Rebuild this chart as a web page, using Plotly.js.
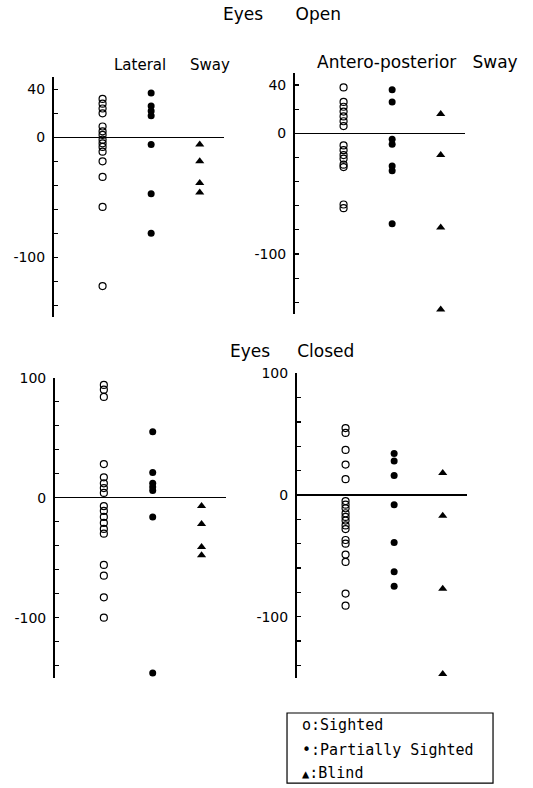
<!DOCTYPE html>
<html>
<head>
<meta charset="utf-8">
<script src="https://cdn.plot.ly/plotly-3.0.1.min.js"></script>
<style>html,body{margin:0;padding:0;background:#fff;}#chart{width:533px;height:788px;}</style>
</head>
<body>
<div id="chart"></div>
<script>
// Eyes open, lateral sway
const openLatSighted = [32, 28, 24, 20, 9, 5, 2, -2, -5, -8, -12, -20, -33, -58, -124];
const openLatPartial = [37, 26, 22, 18, -6, -47, -80];
const openLatBlind = [-6, -20, -38, -46];
// Eyes open, antero-posterior sway
const openApSighted = [38, 26, 22, 18, 14, 10, 6, -10, -14, -18, -21, -26, -28, -59, -62];
const openApPartial = [36, 26, -5, -9, -27, -31, -75];
const openApBlind = [16, -18, -78, -146];
// Eyes closed, lateral sway
const closedLatSighted = [94, 90, 84, 28, 17, 12, 8, 4, -7, -11, -16, -21, -26, -30, -56, -65, -83, -100];
const closedLatPartial = [55, 21, 12, 9, 6, -16, -146];
const closedLatBlind = [-7, -22, -41, -48];
// Eyes closed, antero-posterior sway
const closedApSighted = [55, 51, 37, 25, 13, -5, -8, -11, -15, -18, -21, -25, -28, -37, -40, -49, -55, -81, -91];
const closedApPartial = [34, 28, 16, -8, -39, -63, -75];
const closedApBlind = [18, -17, -77, -147];

const groups = ["Sighted", "Partially Sighted", "Blind"];
const groupPos = [1, 2, 3];
const topTicks = [40, 20, 0, -20, -40, -60, -80, -100, -120, -140];
const topLabels = ["40", "", "0", "", "", "", "", "-100", "", ""];
const botTicks = [100, 80, 60, 40, 20, 0, -20, -40, -60, -80, -100, -120, -140];
const botLabels = ["100", "", "", "", "", "0", "", "", "", "", "-100", "", ""];

const FONT = "DejaVu Sans, Liberation Sans, sans-serif";
const MONO = "DejaVu Sans Mono, Liberation Mono, monospace";
const markerStyles = [
  {symbol: "circle-open", size: 7, color: "#000", line: {width: 1.2, color: "#000"}},
  {symbol: "circle", size: 7, color: "#000"},
  {symbol: "triangle-up", size: 8, color: "#000"}
];

const panels = [
  {data: [openLatSighted, openLatPartial, openLatBlind], xa: "x", ya: "y"},
  {data: [openApSighted, openApPartial, openApBlind], xa: "x2", ya: "y2"},
  {data: [closedLatSighted, closedLatPartial, closedLatBlind], xa: "x3", ya: "y3"},
  {data: [closedApSighted, closedApPartial, closedApBlind], xa: "x4", ya: "y4"}
];

const traces = [];
panels.forEach(p => {
  p.data.forEach((vals, i) => {
    traces.push({
      type: "scatter", mode: "markers",
      name: groups[i],
      x: vals.map(() => groupPos[i]),
      y: vals,
      xaxis: p.xa, yaxis: p.ya,
      marker: markerStyles[i],
      showlegend: false,
      hoverinfo: "y"
    });
  });
});

function xax(d, anchor) {
  return {domain: d, range: [0, 3.5], visible: false, fixedrange: true, anchor: anchor};
}
function yax(d, range, vals, labels, anchor) {
  return {
    domain: d, range: range, anchor: anchor,
    tickvals: vals, ticktext: labels,
    ticks: "inside", ticklen: 4, tickwidth: 1.2, tickcolor: "#000",
    showline: true, linewidth: 2, linecolor: "#000",
    showgrid: false,
    zeroline: true, zerolinecolor: "#000", zerolinewidth: 1.5,
    tickfont: {family: FONT, size: 14, color: "#000"},
    ticklabelstandoff: 4,
    fixedrange: true
  };
}

const nb = "\u00a0";
function sp(n) { return nb.repeat(n); }
function ann(text, x, y, anchor, size, family) {
  return {text: text, x: x, y: y, xref: "paper", yref: "paper",
    xanchor: anchor || "center", yanchor: "middle", showarrow: false,
    font: {family: family || FONT, size: size || 15, color: "#000"}};
}

const layout = {
  width: 533, height: 788,
  margin: {l: 0, r: 0, t: 0, b: 0},
  paper_bgcolor: "#fff", plot_bgcolor: "#fff",
  showlegend: false,
  xaxis: xax([0.1013, 0.4203], "y"),
  xaxis2: xax([0.5535, 0.8724], "y2"),
  xaxis3: xax([0.1032, 0.4240], "y3"),
  xaxis4: xax([0.5572, 0.8762], "y4"),
  yaxis: yax([0.5973, 0.9019], [-150, 50], topTicks, topLabels, "x"),
  yaxis2: yax([0.6011, 0.9074], [-150, 50], topTicks, topLabels, "x2"),
  yaxis3: yax([0.1400, 0.5207], [-150, 100], botTicks, botLabels, "x3"),
  yaxis4: yax([0.1402, 0.5263], [-150, 100], botTicks, botLabels, "x4"),
  annotations: [
    ann("Eyes" + sp(6) + "Open", 0.529, 0.982, "center", 17),
    ann("Lateral" + sp(5) + "Sway", 0.323, 0.9175, "center", 15),
    ann("Antero-posterior" + sp(3) + "Sway", 0.784, 0.921, "center", 17),
    ann("Eyes" + sp(5) + "Closed", 0.548, 0.5546, "center", 17),
    ann("o:Sighted", 0.563, 0.080, "left", 15, MONO),
    ann("\u2022:Partially" + sp(1) + "Sighted", 0.563, 0.048, "left", 15, MONO),
    ann("<span style='font-size:12px'>\u25B2</span>:Blind", 0.563, 0.019, "left", 15, MONO)
  ],
  shapes: [
    {type: "rect", xref: "paper", yref: "paper", x0: 0.5385, x1: 0.925, y0: 0.0063, y1: 0.0952,
     line: {color: "#000", width: 1.2}, fillcolor: "rgba(0,0,0,0)"}
  ]
};

Plotly.newPlot("chart", traces, layout, {displayModeBar: false, staticPlot: true});
</script>
</body>
</html>
